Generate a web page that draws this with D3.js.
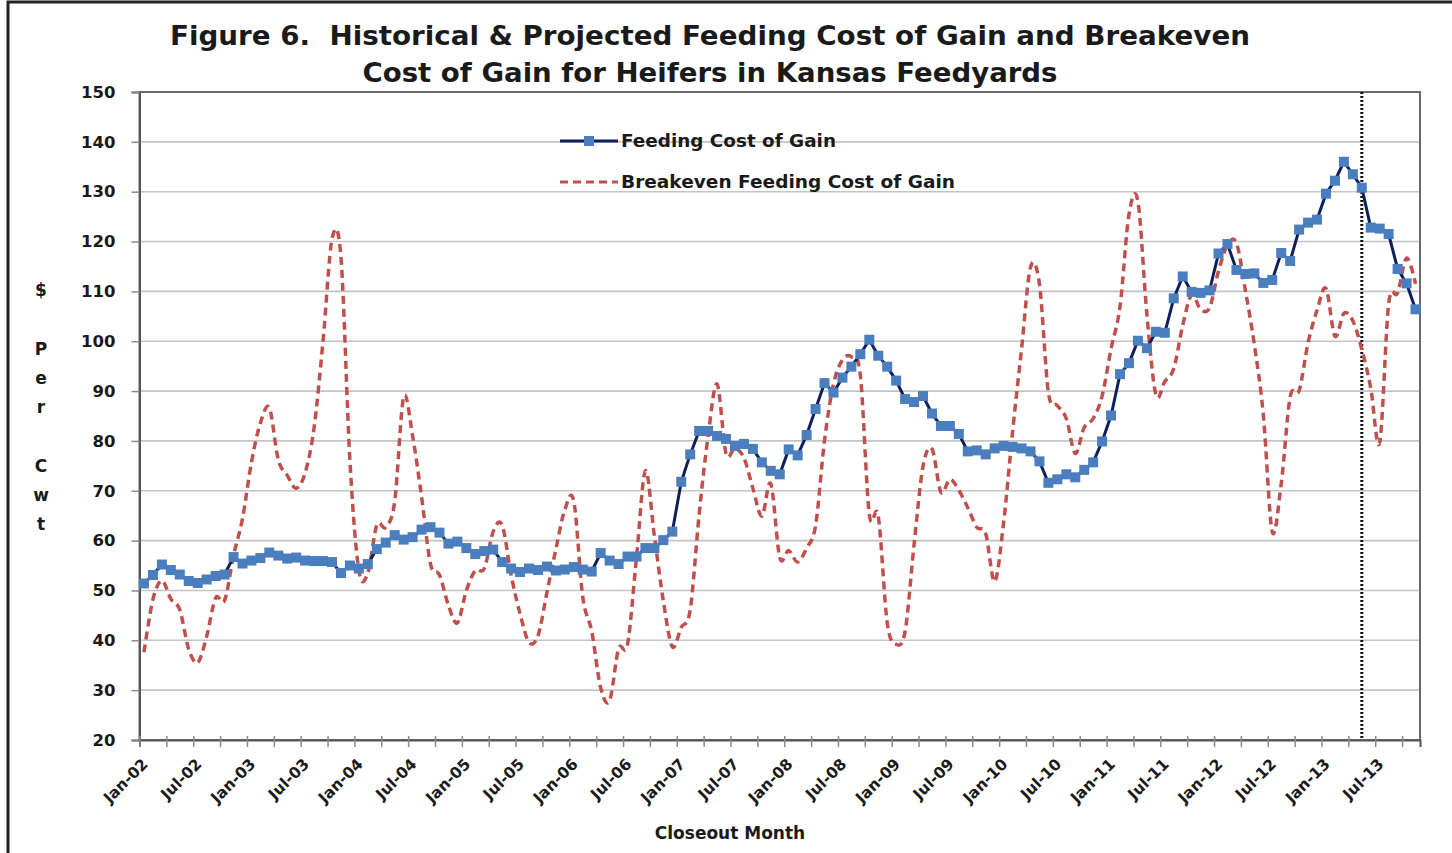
<!DOCTYPE html>
<html>
<head>
<meta charset="utf-8">
<script src="https://cdn.jsdelivr.net/npm/d3@7"></script>
<style>
body { margin: 0; background: #fff; }
svg { display: block; }
text { font-family: "DejaVu Sans", sans-serif; font-weight: bold; fill: #1a1a1a; }
.pre { white-space: pre; }
</style>
</head>
<body>
<svg id="chart" width="1452" height="853"></svg>
<script>
// ---------------- DATA ----------------
const monthNames = ["Jan","Feb","Mar","Apr","May","Jun","Jul","Aug","Sep","Oct","Nov","Dec"];
const years = ["02","03","04","05","06","07","08","09","10","11","12","13"];
const monthCount = 143; // Jan-02 .. Nov-13
const categories = [];
years.forEach(y => monthNames.forEach(m => { if (categories.length < monthCount) categories.push(m + "-" + y); }));

const feedingCost = [
  51.4, 53.1, 55.2, 54.1, 53.2, 51.9, 51.5, 52.2, 52.9, 53.2, 56.7, 55.4,
  56.0, 56.5, 57.6, 57.0, 56.4, 56.6, 56.0, 55.9, 55.9, 55.7, 53.5, 55.0,
  54.4, 55.3, 58.3, 59.6, 61.1, 60.2, 60.7, 62.2, 62.7, 61.6, 59.4, 59.8,
  58.5, 57.3, 57.9, 58.2, 55.7, 54.4, 53.7, 54.4, 54.1, 54.8, 54.0, 54.2,
  54.7, 54.2, 53.8, 57.5, 56.0, 55.3, 56.8, 56.8, 58.5, 58.5, 60.1, 61.8,
  71.8, 77.3, 82.0, 82.0, 81.0, 80.4, 79.0, 79.4, 78.4, 75.7, 74.0, 73.3,
  78.3, 77.1, 81.2, 86.4, 91.6, 89.7, 92.7, 94.9, 97.4, 100.3, 97.1, 94.9,
  92.1, 88.4, 87.8, 89.0, 85.5, 83.0, 83.0, 81.4, 77.9, 78.1, 77.3, 78.5,
  79.0, 78.8, 78.5, 77.9, 75.9, 71.6, 72.3, 73.3, 72.7, 74.2, 75.7, 79.9,
  85.1, 93.4, 95.6, 100.1, 98.6, 101.9, 101.7, 108.6, 113.0, 109.9, 109.7, 110.2,
  117.6, 119.5, 114.3, 113.5, 113.6, 111.7, 112.3, 117.7, 116.1, 122.4, 123.8, 124.4,
  129.6, 132.2, 136.0, 133.5, 130.8, 122.8, 122.6, 121.5, 114.5, 111.6, 106.4
];

const breakevenCost = [
  37.6, 48.2, 52.0, 48.3, 46.1, 38.2, 35.5, 40.8, 48.5, 48.0, 57.0, 64.4,
  75.7, 83.6, 86.6, 76.2, 73.1, 70.5, 73.6, 82.7, 100.1, 120.5, 116.8, 76.0,
  54.0, 53.5, 63.1, 62.7, 67.9, 88.8, 81.0, 68.8, 55.3, 53.1, 47.0, 43.5,
  50.0, 54.0, 54.4, 61.8, 63.1, 53.1, 45.3, 39.6, 40.9, 49.6, 58.3, 66.2,
  67.9, 48.7, 41.8, 30.5, 27.9, 38.3, 39.2, 56.6, 74.0, 60.9, 47.9, 38.7,
  42.6, 46.1, 65.3, 81.0, 91.4, 77.5, 78.5, 76.6, 70.5, 64.9, 71.4, 56.6,
  58.0, 55.7, 58.5, 63.0, 80.1, 91.4, 96.2, 96.9, 93.2, 65.3, 64.9, 43.5,
  39.2, 41.8, 59.2, 74.9, 78.4, 69.7, 72.3, 70.1, 66.6, 62.7, 61.4, 51.8,
  63.6, 81.8, 98.4, 114.8, 111.5, 89.7, 87.1, 84.5, 77.5, 82.7, 84.5, 89.0,
  98.5, 107.0, 125.4, 128.0, 105.4, 89.3, 91.9, 94.5, 103.2, 109.3, 106.4, 106.7,
  114.1, 119.3, 119.7, 110.2, 99.3, 85.3, 61.8, 71.4, 88.8, 90.1, 99.7, 106.2,
  110.6, 101.0, 105.6, 104.1, 98.4, 90.6, 79.7, 107.5, 109.7, 116.7, 111.5
];

const yTicks = [20, 30, 40, 50, 60, 70, 80, 90, 100, 110, 120, 130, 140, 150];
const xTickLabels = ["Jan-02","Jul-02","Jan-03","Jul-03","Jan-04","Jul-04","Jan-05","Jul-05",
  "Jan-06","Jul-06","Jan-07","Jul-07","Jan-08","Jul-08","Jan-09","Jul-09",
  "Jan-10","Jul-10","Jan-11","Jul-11","Jan-12","Jul-12","Jan-13","Jul-13"];
const projectionMarker = "May-13";
const seriesNames = ["Feeding Cost of Gain", "Breakeven Feeding Cost of Gain"];
const titleLines = ["Figure 6.  Historical & Projected Feeding Cost of Gain and Breakeven",
                    "Cost of Gain for Heifers in Kansas Feedyards"];
const yAxisTitle = ["$", "", "P", "e", "r", "", "C", "w", "t"];
const xAxisTitle = "Closeout Month";

// ---------------- LAYOUT ----------------
const svg = d3.select("#chart");
const L = 139.5, R = 1420, T = 92, B = 740;

const x = d3.scaleBand().domain(categories).range([L, R]).paddingInner(0).paddingOuter(0);
const bw = x.bandwidth();
const cx = d => x(d) + bw / 2;
const xIdx = d3.scaleLinear().domain([0, monthCount]).range([L, R]);
const y = d3.scaleLinear().domain([20, 150]).range([B, T]);

// outer frame
svg.append("rect").attr("x", 8).attr("y", 2).attr("width", 1500).attr("height", 900)
  .attr("fill", "none").attr("stroke", "#222").attr("stroke-width", 3);

// gridlines
svg.append("g").selectAll("line").data(yTicks.filter(v => v > 20 && v < 150)).join("line")
  .attr("x1", L).attr("x2", R).attr("y1", d => y(d)).attr("y2", d => y(d))
  .attr("stroke", "#c4c4c4").attr("stroke-width", 1.6);

// plot border
svg.append("rect").attr("x", L).attr("y", T).attr("width", R - L).attr("height", B - T)
  .attr("fill", "none").attr("stroke", "#6a6a6a").attr("stroke-width", 2);

// y axis
const yAxis = svg.append("g").attr("transform", `translate(${L},0)`)
  .call(d3.axisLeft(y).tickValues(yTicks).tickSize(8).tickPadding(16).tickFormat(d3.format("d")));
yAxis.select(".domain").attr("stroke", "#555").attr("stroke-width", 2);
yAxis.selectAll(".tick line").attr("stroke", "#8a8a8a").attr("stroke-width", 1.5);
yAxis.selectAll(".tick text").style("font-family", "DejaVu Sans").style("font-weight", "bold")
  .style("font-size", "16.5px").attr("fill", "#1a1a1a");

// x axis tick marks (every 3 months, at category boundaries)
const tickIdx = d3.range(0, monthCount + 1, 3);
const xTickAxis = svg.append("g").attr("transform", `translate(0,${B})`)
  .call(d3.axisBottom(xIdx).tickValues(tickIdx).tickSize(7).tickFormat(""));
xTickAxis.select(".domain").attr("stroke", "#555").attr("stroke-width", 2);
xTickAxis.selectAll(".tick line").attr("stroke", "#8a8a8a").attr("stroke-width", 1.5).attr("y1", -4);

// x axis labels (every 6 months, rotated)
const xLabAxis = svg.append("g").attr("transform", `translate(0,${B})`)
  .call(d3.axisBottom(x).tickValues(xTickLabels).tickSize(0).tickPadding(0));
xLabAxis.select(".domain").remove();
xLabAxis.selectAll(".tick text")
  .style("font-family", "DejaVu Sans").style("font-weight", "bold").style("font-size", "15.5px")
  .attr("fill", "#1a1a1a")
  .attr("text-anchor", "end")
  .attr("transform", "translate(5,25) rotate(-45)")
  .attr("dy", "0").attr("y", 0).attr("x", 0);

// projection divider
svg.append("line")
  .attr("x1", cx(projectionMarker)).attr("x2", cx(projectionMarker))
  .attr("y1", T).attr("y2", B)
  .attr("stroke", "#111").attr("stroke-width", 3).attr("stroke-dasharray", "2,2");

// breakeven (smoothed dashed)
const redLine = d3.line().x((d, i) => cx(categories[i])).y(d => y(d)).curve(d3.curveCardinal.tension(0));
svg.append("path").datum(breakevenCost).attr("d", redLine)
  .attr("fill", "none").attr("stroke", "#c0504d").attr("stroke-width", 3.5)
  .attr("stroke-dasharray", "8,5");

// feeding cost line + markers
const blueLine = d3.line().x((d, i) => cx(categories[i])).y(d => y(d));
svg.append("path").datum(feedingCost).attr("d", blueLine)
  .attr("fill", "none").attr("stroke", "#0f1f5c").attr("stroke-width", 3);
svg.append("g").selectAll("rect").data(feedingCost).join("rect")
  .attr("x", (d, i) => cx(categories[i]) - 5).attr("y", d => y(d) - 5)
  .attr("width", 10).attr("height", 10).attr("fill", "#4a7ebf");

// legend
const lg = svg.append("g");
lg.append("line").attr("x1", 560).attr("x2", 618).attr("y1", 141).attr("y2", 141)
  .attr("stroke", "#0f1f5c").attr("stroke-width", 3);
lg.append("rect").attr("x", 584).attr("y", 136).attr("width", 10).attr("height", 10).attr("fill", "#4a7ebf");
lg.append("line").attr("x1", 560).attr("x2", 618).attr("y1", 182).attr("y2", 182)
  .attr("stroke", "#c0504d").attr("stroke-width", 3).attr("stroke-dasharray", "8,5");
lg.append("text").attr("x", 621).attr("y", 147).style("font-size", "17px")
  .attr("textLength", 215).attr("lengthAdjust", "spacingAndGlyphs").text(seriesNames[0]);
lg.append("text").attr("x", 621).attr("y", 188).style("font-size", "17px")
  .attr("textLength", 334).attr("lengthAdjust", "spacingAndGlyphs").text(seriesNames[1]);

// title
svg.append("text").attr("class", "pre").attr("xml:space", "preserve")
  .attr("x", 710).attr("y", 45).attr("text-anchor", "middle")
  .style("font-size", "27px").attr("textLength", 1080).attr("lengthAdjust", "spacingAndGlyphs")
  .attr("fill", "#111").text(titleLines[0]);
svg.append("text").attr("class", "pre")
  .attr("x", 710).attr("y", 82).attr("text-anchor", "middle")
  .style("font-size", "27px").attr("textLength", 695).attr("lengthAdjust", "spacingAndGlyphs")
  .attr("fill", "#111").text(titleLines[1]);

// y axis title (stacked letters)
svg.append("g").selectAll("text").data(yAxisTitle).join("text")
  .attr("x", 41).attr("y", (d, i) => 296 + i * 29.3).attr("text-anchor", "middle")
  .style("font-size", "17px").text(d => d);

// x axis title
svg.append("text").attr("x", 730).attr("y", 839).attr("text-anchor", "middle")
  .style("font-size", "17px").text(xAxisTitle);
</script>
</body>
</html>
